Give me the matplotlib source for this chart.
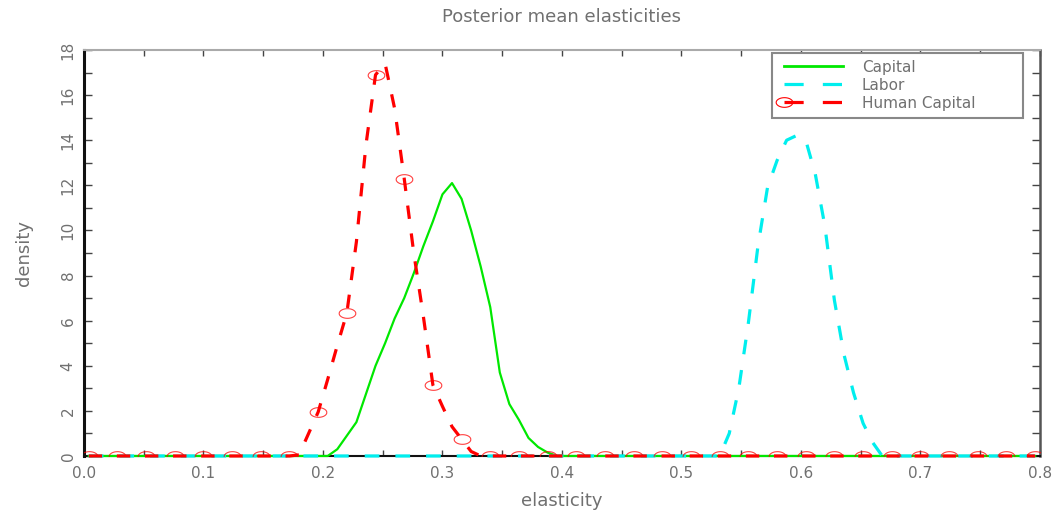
import numpy as np
import matplotlib
matplotlib.use("Agg")
import matplotlib.pyplot as plt
from matplotlib.path import Path
from matplotlib.lines import Line2D
from matplotlib.legend_handler import HandlerLine2D
from matplotlib.ticker import MultipleLocator, FormatStrFormatter

# evaluation grid of the densities (bin centres, step 0.008)
elasticity = np.linspace(0.004, 0.796, 100)

# non-zero parts of each density; zero elsewhere
capital_start = 25
capital_vals = [0.0, 0.3, 0.9, 1.5, 2.75, 4.0, 5.0, 6.1, 7.0, 8.1, 9.3, 10.4, 11.6,
                12.1, 11.4, 10.0, 8.4, 6.6, 3.7, 2.3, 1.6, 0.8, 0.4, 0.15, 0.0]
labor_start = 66
labor_vals = [0.0, 1.0, 3.0, 5.9, 9.3, 11.9, 13.1, 14.0, 14.2, 14.0, 12.5, 10.2,
              6.9, 4.5, 2.8, 1.45, 0.6, 0.0]
human_start = 21
human_vals = [0.0, 0.05, 1.0, 1.95, 3.4, 4.9, 6.34, 9.5, 13.8, 16.9, 17.4, 15.4,
              12.3, 9.0, 6.2, 3.15, 2.2, 1.3, 0.75, 0.2, 0.0]

labels = ["Capital", "Labor", "Human Capital"]
title = "Posterior mean elasticities"


def full_series(start, vals):
    y = np.zeros(len(elasticity))
    y[start:start + len(vals)] = vals
    return y


class FirstMarkerHandler(HandlerLine2D):
    # legend marker only at the left end of the sample line
    def create_artists(self, *args, **kwargs):
        arts = super().create_artists(*args, **kwargs)
        for a in arts:
            if a.get_marker() not in (None, "None", "none", ""):
                a.set_markevery([0])
        return arts


capital = full_series(capital_start, capital_vals)
labor = full_series(labor_start, labor_vals)
human = full_series(human_start, human_vals)

GREEN = "#00e800"
CYAN = "#00eeee"
RED = "#ff0000"
TXT = "#707070"

# flat ellipse marker, like the reference's squashed circles
t = np.linspace(0, 2 * np.pi, 40)
ellipse = Path(np.column_stack([np.cos(t), 0.58 * np.sin(t)]))

fig = plt.figure(figsize=(10.64, 5.15), dpi=100)
ax = fig.add_axes([0.0789, 0.1146, 0.8985, 0.7883])

ax.plot(elasticity, capital, color=GREEN, lw=1.6, clip_on=False, zorder=3)
lab_line, = ax.plot(elasticity, labor, color=CYAN, lw=2.3, clip_on=False, zorder=4)
hum_line, = ax.plot(elasticity, human, color=RED, lw=2.3, clip_on=False, zorder=5)
# dash pattern in units of line width
lab_line.set_dashes([4.6, 5.0])
hum_line.set_dashes([4.2, 4.6])
ax.plot(elasticity[::3], human[::3], ls="none", marker=ellipse, ms=12,
        mfc="none", mec=RED, mew=0.8, alpha=0.75, zorder=6)

ax.set_xlim(0, 0.8)
ax.set_ylim(0, 18)

ax.xaxis.set_major_locator(MultipleLocator(0.1))
ax.xaxis.set_minor_locator(MultipleLocator(0.05))
ax.xaxis.set_major_formatter(FormatStrFormatter("%.1f"))
ax.yaxis.set_major_locator(MultipleLocator(2))
ax.yaxis.set_minor_locator(MultipleLocator(1))

ax.tick_params(axis="x", which="both", direction="in", top=True, length=4,
               width=1, color="#444444", labelcolor=TXT, labelsize=11, pad=7)
ax.tick_params(axis="y", which="both", direction="in", right=True, length=5.5,
               width=1, color="#444444", labelcolor=TXT, labelsize=11, pad=6)
for lab in ax.get_yticklabels():
    lab.set_rotation(90)
    lab.set_va("center")

ax.spines["left"].set_linewidth(2.2)
ax.spines["left"].set_color("#111111")
ax.spines["bottom"].set_linewidth(1.5)
ax.spines["bottom"].set_color("#111111")
ax.spines["top"].set_linewidth(1.5)
ax.spines["top"].set_color("#aaaaaa")
ax.spines["right"].set_linewidth(1.8)
ax.spines["right"].set_color("#555555")

ax.set_xlabel("elasticity", color=TXT, fontsize=13, labelpad=8)
ax.set_ylabel("density", color=TXT, fontsize=13, labelpad=20)
ax.set_title(title, color=TXT, fontsize=13, pad=20)

hum_handle = Line2D([], [], color=RED, lw=2.3, dashes=[6, 6], marker=ellipse,
                    ms=12, mfc="none", mec=RED, mew=0.8)
handles = [
    Line2D([], [], color=GREEN, lw=2),
    Line2D([], [], color=CYAN, lw=2.3, dashes=[6, 6]),
    hum_handle,
]
leg = ax.legend(handles, labels, loc="upper left",
                bbox_to_anchor=(0.72, 0.60, 0.262, 0.393), mode="expand",
                fontsize=11, handlelength=4.5, handletextpad=0.9,
                labelspacing=0.2, borderpad=0.45, borderaxespad=0,
                fancybox=False, framealpha=1, edgecolor="#888888", numpoints=2,
                handler_map={hum_handle: FirstMarkerHandler()})
leg.get_frame().set_linewidth(1.5)
for txt in leg.get_texts():
    txt.set_color(TXT)

fig.savefig("out.png", dpi=100)
